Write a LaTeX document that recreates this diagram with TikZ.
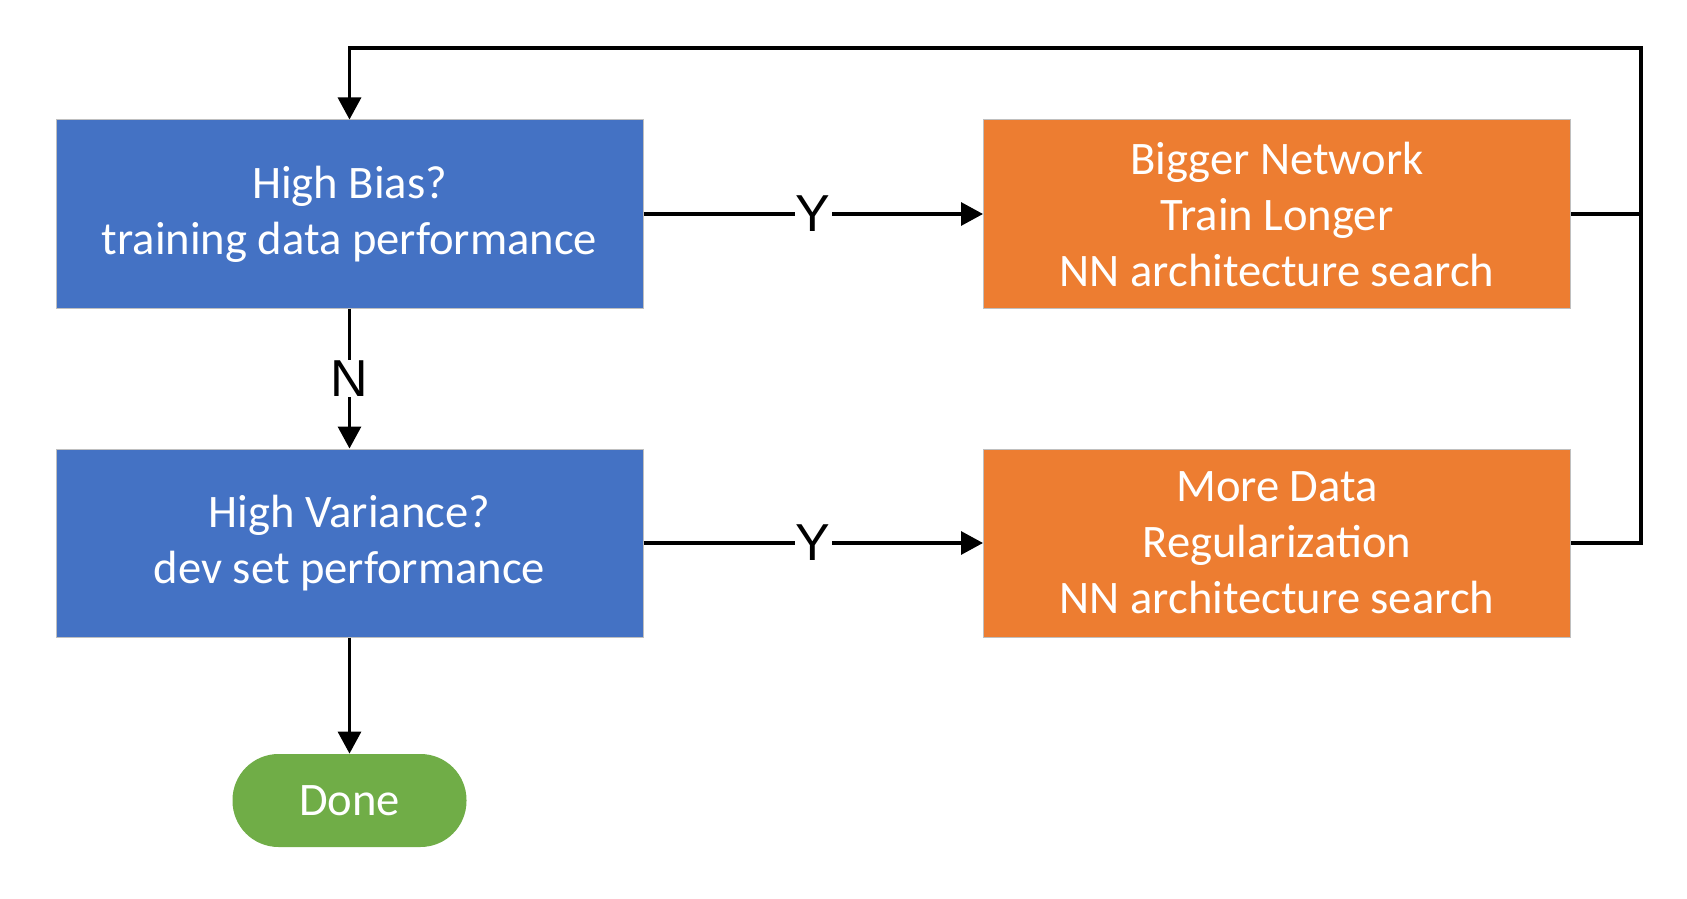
\documentclass[tikz,border=0pt]{standalone}
\usepackage{fontspec}
\setmainfont{Carlito}
\newfontfamily\labfont{Liberation Sans}
\usetikzlibrary{arrows.meta,positioning,shapes}
\definecolor{qblue}{HTML}{4472C4}
\definecolor{actorange}{HTML}{ED7D31}
\definecolor{donegreen}{HTML}{70AD47}
\definecolor{edgegrey}{HTML}{BFBFBF}

\begin{document}
\begin{tikzpicture}[x=0.5pt,y=-0.5pt,
  every node/.style={font=\fontsize{23.3}{28}\selectfont},
  box/.style={rectangle,draw=edgegrey,line width=0.5pt,fill=qblue,text=white,minimum width=293.5pt,minimum height=94pt,align=center,inner sep=0pt},
  fixbox/.style={box,fill=actorange},
  endbox/.style={rectangle,rounded corners=23pt,fill=donegreen,text=white,minimum width=117pt,minimum height=46.5pt,inner sep=0pt},
  lab/.style={fill=white,inner sep=0.5pt,font=\labfont\fontsize{26}{30}\selectfont},
  arr/.style={-{Triangle[length=11pt,width=11.5pt]},line width=1.6pt,black}]
\useasboundingbox (0,0) rectangle (1687,899);
\node[box] (hb) at (349.5,214) {High Bias?\\training data performance};
\node[fixbox] (bn) at (1277,214) {Bigger Network\\Train Longer\\NN architecture search};
\node[box] (hv) at (349.5,543) {High Variance?\\dev set performance};
\node[fixbox] (md) at (1277,543) {More Data\\Regularization\\NN architecture search};
\node[endbox] (done) at (349.5,800.5) {Done};
\coordinate (loop) at (1641,48);
\draw[arr] (hb) -- node[lab] {Y} (bn);
\draw[arr] (hv) -- node[lab] {Y} (md);
\draw[arr] (hb) -- node[lab] {N} (hv);
\draw[arr] (hv) -- (done);
\draw[line width=1.6pt] (md.east) -| (loop);
\draw[arr] (bn.east) -| (loop) -| (hb.north);
\end{tikzpicture}
\end{document}
